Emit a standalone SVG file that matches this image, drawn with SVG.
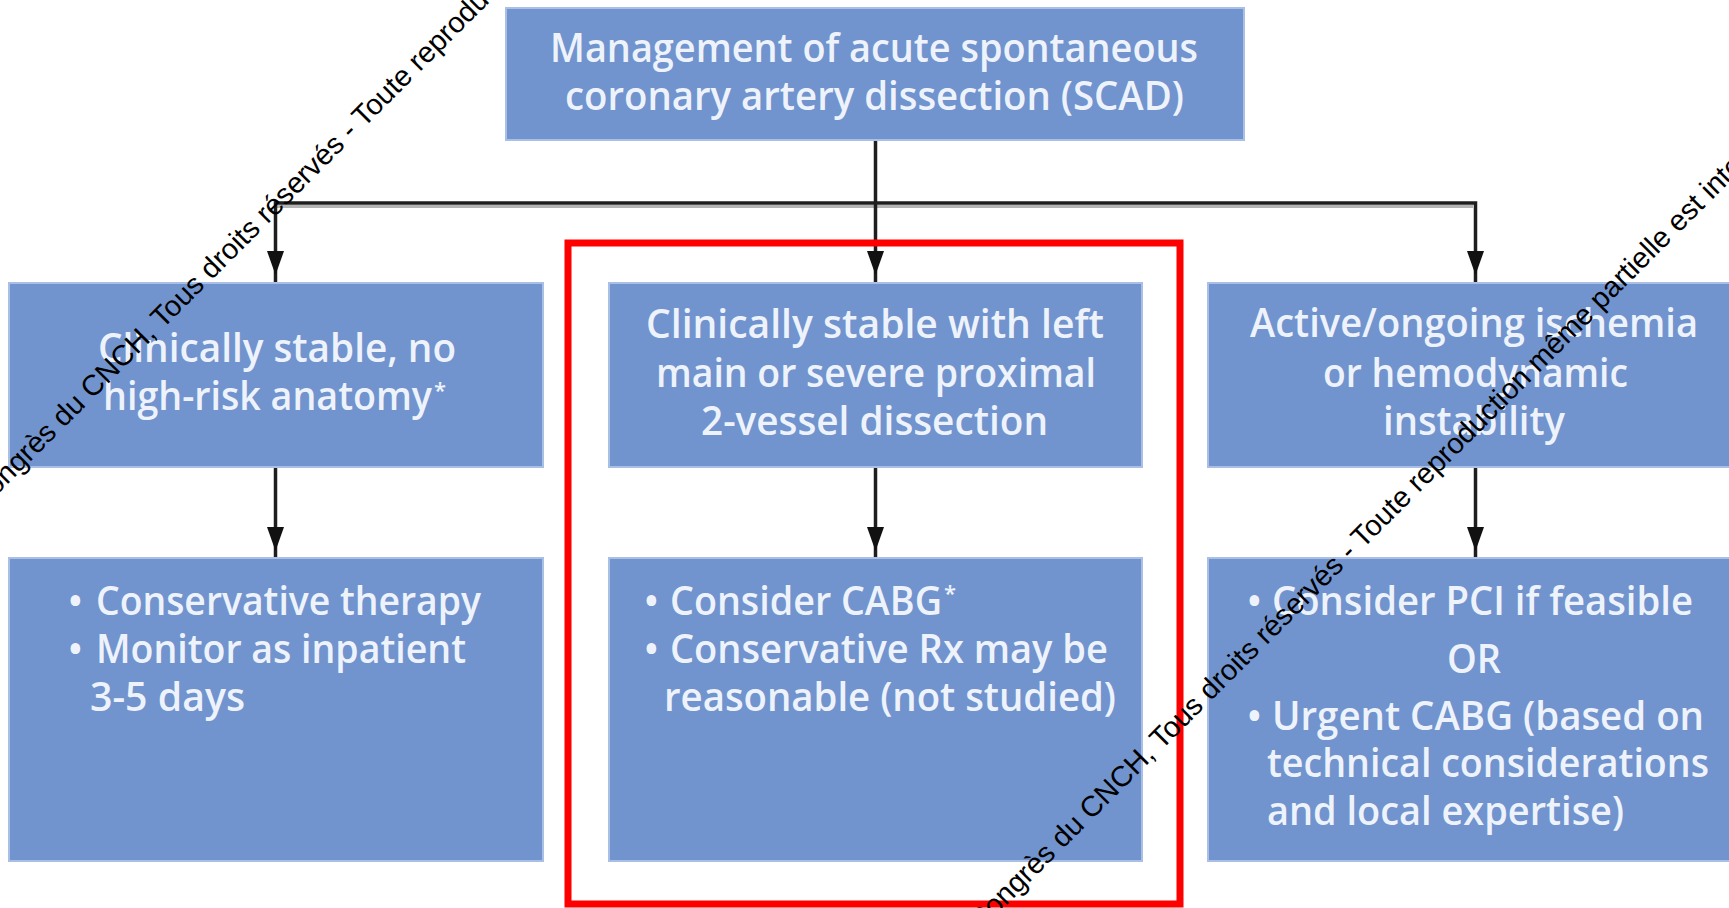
<svg xmlns="http://www.w3.org/2000/svg" width="1729" height="908" viewBox="0 0 1729 908">
<style>
.box{fill:#7194CE;stroke:#A9BFE6;stroke-width:2}
.t{font-family:"Open Sans","Noto Sans","DejaVu Sans",sans-serif;font-size:39px;font-weight:600;fill:#EEF3FB}
.c{text-anchor:middle}
.ast{font-size:22px}
.conn{fill:none;stroke:#1e1e1e;stroke-width:3.5;stroke-linejoin:miter}
.wm{font-family:"Liberation Sans",Arial,sans-serif;font-size:29px;fill:#000}
</style>
<defs>
<marker id="ah" markerUnits="userSpaceOnUse" markerWidth="40" markerHeight="20" viewBox="0 0 40 20" refX="31" refY="8.5" orient="auto">
<path d="M0,0 L24,8.5 L0,17 z" fill="#111"/>
</marker>
</defs>
<rect x="0" y="0" width="1729" height="908" fill="#ffffff"/>

<g id="connectors">
<path d="M277,206.5 H1473" stroke="#b4b4b4" stroke-width="3" fill="none"/>
<path class="conn" d="M875.5,140 V282" marker-end="url(#ah)"/>
<path class="conn" d="M875.5,203 H275.5 V282" marker-end="url(#ah)"/>
<path class="conn" d="M875.5,203 H1475.5 V282" marker-end="url(#ah)"/>
<path class="conn" d="M275.5,467 V558" marker-end="url(#ah)"/>
<path class="conn" d="M875.5,467 V558" marker-end="url(#ah)"/>
<path class="conn" d="M1475.5,467 V558" marker-end="url(#ah)"/>
</g>

<g id="n-top">
<rect class="box" x="506" y="8" width="738" height="132"/>
<text class="t" x="550" y="62" textLength="648" lengthAdjust="spacingAndGlyphs">Management of acute spontaneous</text>
<text class="t" x="565" y="110" textLength="619" lengthAdjust="spacingAndGlyphs">coronary artery dissection (SCAD)</text>
</g>

<g id="n-stable">
<rect class="box" x="9" y="283" width="534" height="184"/>
<text class="t" x="98" y="362" textLength="358" lengthAdjust="spacingAndGlyphs">Clinically stable, no</text>
<text class="t" x="103" y="410" textLength="329" lengthAdjust="spacingAndGlyphs">high-risk anatomy</text>
<text class="t ast" x="434" y="398">*</text>
</g>

<g id="n-leftmain">
<rect class="box" x="609" y="283" width="533" height="184"/>
<text class="t" x="646" y="338" textLength="458" lengthAdjust="spacingAndGlyphs">Clinically stable with left</text>
<text class="t" x="656" y="387" textLength="440" lengthAdjust="spacingAndGlyphs">main or severe proximal</text>
<text class="t" x="701" y="435" textLength="347" lengthAdjust="spacingAndGlyphs">2-vessel dissection</text>
</g>

<g id="n-ischemia">
<rect class="box" x="1208" y="283" width="540" height="184"/>
<text class="t" x="1250" y="337" textLength="448" lengthAdjust="spacingAndGlyphs">Active/ongoing ischemia</text>
<text class="t" x="1323" y="387" textLength="305" lengthAdjust="spacingAndGlyphs">or hemodynamic</text>
<text class="t" x="1383" y="435" textLength="182" lengthAdjust="spacingAndGlyphs">instability</text>
</g>

<g id="n-conservative">
<rect class="box" x="9" y="558" width="534" height="303"/>
<text class="t" x="68" y="615">•</text>
<text class="t" x="96" y="615" textLength="385" lengthAdjust="spacingAndGlyphs">Conservative therapy</text>
<text class="t" x="68" y="663">•</text>
<text class="t" x="96" y="663" textLength="370" lengthAdjust="spacingAndGlyphs">Monitor as inpatient</text>
<text class="t" x="90" y="711" textLength="155" lengthAdjust="spacingAndGlyphs">3-5 days</text>
</g>

<g id="n-cabg">
<rect class="box" x="609" y="558" width="533" height="303"/>
<text class="t" x="644" y="615">•</text>
<text class="t" x="670" y="615" textLength="272" lengthAdjust="spacingAndGlyphs">Consider CABG</text>
<text class="t ast" x="944" y="601">*</text>
<text class="t" x="644" y="663">•</text>
<text class="t" x="670" y="663" textLength="438" lengthAdjust="spacingAndGlyphs">Conservative Rx may be</text>
<text class="t" x="664" y="711" textLength="452" lengthAdjust="spacingAndGlyphs">reasonable (not studied)</text>
</g>

<g id="n-pci">
<rect class="box" x="1208" y="558" width="540" height="303"/>
<text class="t" x="1247" y="615">•</text>
<text class="t" x="1272" y="615" textLength="421" lengthAdjust="spacingAndGlyphs">Consider PCI if feasible</text>
<text class="t" x="1447" y="673" textLength="54" lengthAdjust="spacingAndGlyphs">OR</text>
<text class="t" x="1247" y="730">•</text>
<text class="t" x="1272" y="730" textLength="432" lengthAdjust="spacingAndGlyphs">Urgent CABG (based on</text>
<text class="t" x="1267" y="777" textLength="442" lengthAdjust="spacingAndGlyphs">technical considerations</text>
<text class="t" x="1267" y="825" textLength="357" lengthAdjust="spacingAndGlyphs">and local expertise)</text>
</g>

<g id="highlight">
<rect x="568" y="243" width="612" height="661" fill="none" stroke="#ff0000" stroke-width="7"/>
</g>

<g id="watermark">
<text class="wm" transform="translate(163,329) rotate(-45)" x="-258" y="0">Congrès du CNCH, Tous droits réservés - Toute reproduction même partielle est interdite</text>
<text class="wm" transform="translate(1162,750) rotate(-45)" x="-258" y="0">Congrès du CNCH, Tous droits réservés - Toute reproduction même partielle est interdite</text>
</g>
</svg>
